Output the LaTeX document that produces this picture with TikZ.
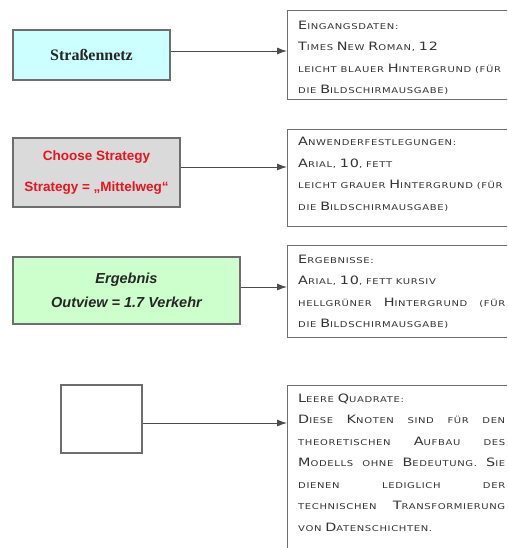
\documentclass[tikz,border=0pt]{standalone}
\usepackage{fontspec}
\setmainfont{Liberation Serif}
\newfontfamily\arialf{Liberation Sans}
\newfontfamily\scfont[LetterSpace=8,FakeStretch=1.25]{DejaVu Sans}
\usetikzlibrary{arrows.meta}
\definecolor{bordergray}{HTML}{6E6E6E}
\definecolor{lightcyan}{HTML}{CCFFFF}
\definecolor{lightgray}{HTML}{DADADA}
\definecolor{lightgreen}{HTML}{CCFFCC}
\definecolor{redtext}{HTML}{E8141E}
\newcommand\BC[1]{{\fontsize{11.5}{12}\selectfont #1}}
\tikzset{
  leftbox/.style={draw=bordergray, line width=1.2pt, inner sep=0pt},
  infobox/.style={draw=bordergray, line width=1.2pt, anchor=north west, inner sep=0pt},
  infotext/.style={anchor=north west, align=left, inner sep=0pt,
     font=\scfont\fontsize{8}{21.5}\selectfont, text=black!80},
  conn/.style={draw=black!70, line width=0.9pt, -{Latex[length=10pt,width=7pt]}}
}
\begin{document}
\begin{tikzpicture}[x=1pt,y=-1pt]
\useasboundingbox (0,0) rectangle (507,548);
\clip (0,0) rectangle (507,548);

% left boxes
\node[leftbox, fill=lightcyan, minimum width=157pt, minimum height=50pt,
  font=\bfseries\fontsize{16}{18}\selectfont, text=black!85] (a) at (91.5,55) {Straßennetz};
\node[leftbox, fill=lightgray, minimum width=167pt, minimum height=69pt,
  font=\arialf\bfseries\fontsize{13.5}{31}\selectfont, text=redtext, align=center] (b) at (96.5,172.5)
  {Choose Strategy\\Strategy = „Mittelweg“};
\node[leftbox, fill=lightgreen, minimum width=227pt, minimum height=67pt,
  font=\arialf\bfseries\itshape\fontsize{14.5}{24}\selectfont, text=black!85, align=center] (c) at (126.5,290.5)
  {Ergebnis\\Outview = 1.7 Verkehr};
\node[leftbox, minimum width=81pt, minimum height=68pt] (d) at (101.5,419) {};

% right boxes
\node[infobox, minimum width=235pt, minimum height=89pt] (ra) at (287,10) {};
\node[infobox, minimum width=235pt, minimum height=97pt] (rb) at (287,129) {};
\node[infobox, minimum width=235pt, minimum height=92pt] (rc) at (287,245) {};
\node[infobox, minimum width=235pt, minimum height=180pt] (rd) at (287,385) {};

% texts
\node[infotext] (ta) at (298,20.5) {%
  \BC{E}INGANGSDATEN:\\
  \BC{T}IMES \BC{N}EW \BC{R}OMAN, \BC{12}\\
  LEICHT BLAUER \BC{H}INTERGRUND (FÜR\\
  DIE \BC{B}ILDSCHIRMAUSGABE)};
\node[infotext] (tb) at (298,137) {%
  \BC{A}NWENDERFESTLEGUNGEN:\\
  \BC{A}RIAL, \BC{10}, FETT\\
  LEICHT GRAUER \BC{H}INTERGRUND (FÜR\\
  DIE \BC{B}ILDSCHIRMAUSGABE)};
\node[infotext] (tc) at (298,254.5) {%
  \BC{E}RGEBNISSE:\\
  \BC{A}RIAL, \BC{10}, FETT KURSIV\\
  \makebox[207pt][s]{HELLGRÜNER \BC{H}INTERGRUND (FÜR}\\
  DIE \BC{B}ILDSCHIRMAUSGABE)};
\node[infotext] (td) at (298,393.5) {%
  \BC{L}EERE \BC{Q}UADRATE:\\
  \makebox[207pt][s]{\BC{D}IESE \BC{K}NOTEN SIND FÜR DEN}\\
  \makebox[207pt][s]{THEORETISCHEN \BC{A}UFBAU DES}\\
  \makebox[207pt][s]{\BC{M}ODELLS OHNE \BC{B}EDEUTUNG. \BC{S}IE}\\
  \makebox[207pt][s]{DIENEN LEDIGLICH DER}\\
  \makebox[207pt][s]{TECHNISCHEN \BC{T}RANSFORMIERUNG}\\
  VON \BC{D}ATENSCHICHTEN.};

% connectors
\draw[conn] ([yshift=4pt]a.east) -- ([yshift=4pt]a.east -| ra.west);
\draw[conn] ([yshift=5.5pt]b.east) -- ([yshift=5.5pt]b.east -| rb.west);
\draw[conn] ([yshift=3.5pt]c.east) -- ([yshift=3.5pt]c.east -| rc.west);
\draw[conn] ([yshift=-4pt]d.east) -- ([yshift=-4pt]d.east -| rd.west);
\end{tikzpicture}
\end{document}
